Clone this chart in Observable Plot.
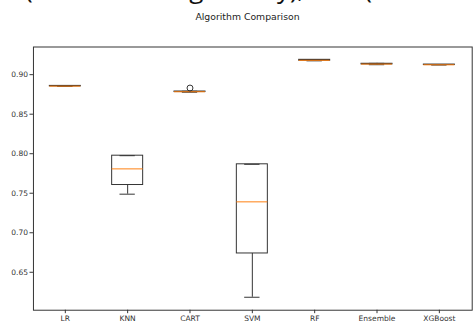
<!DOCTYPE html>
<html>
<head>
<meta charset="utf-8">
<script src="https://cdn.jsdelivr.net/npm/d3@7"></script>
<script src="https://cdn.jsdelivr.net/npm/@observablehq/plot@0.6"></script>
<style>
  html, body { margin: 0; padding: 0; background: #fff; overflow: hidden; }
  #wrap { position: relative; width: 473px; height: 325px; overflow: hidden; }
  #cut { position: absolute; left: 25px; top: -25px; font-family: "Open Sans", sans-serif; font-size: 26px; color: #111; white-space: nowrap; line-height: 1; }
  #title { position: absolute; left: 0; width: 495px; top: 11px; text-align: center; font-family: "DejaVu Sans", sans-serif; font-size: 9.3px; color: #222; }
  #chart { position: absolute; left: 0; top: 0; }
</style>
</head>
<body>
<div id="wrap">
  <div id="chart"></div>
  <div id="cut">(Before Tuning Mainly), and (</div>
  <div id="title">Algorithm Comparison</div>
</div>
<script>
const names = ["LR", "KNN", "CART", "SVM", "RF", "Ensemble", "XGBoost"];
const whiskerLow  = [0.8852, 0.7488, 0.8778, 0.6184, 0.9175, 0.9126, 0.9122];
const quart1      = [0.8852, 0.7604, 0.8780, 0.6738, 0.9176, 0.9130, 0.9122];
const medians     = [0.8855, 0.7808, 0.8784, 0.7391, 0.9182, 0.9134, 0.9125];
const quart3      = [0.8858, 0.7975, 0.8787, 0.7866, 0.9188, 0.9138, 0.9128];
const whiskerHigh = [0.8858, 0.7975, 0.8790, 0.7866, 0.9189, 0.9143, 0.9128];
const outlierNames = ["CART"];
const outlierValues = [0.8831];
const yTicks = [0.65, 0.70, 0.75, 0.80, 0.85, 0.90];

const rows = names.map((n, i) => ({
  name: n, lo: whiskerLow[i], q1: quart1[i], med: medians[i], q3: quart3[i], hi: whiskerHigh[i]
}));
const outliers = outlierNames.map((n, i) => ({name: n, v: outlierValues[i]}));

const W = 478, ML = 33.3, MR = 1.3;
const bw = (W - ML - MR) / names.length;
const boxInset = bw / 4;
const capInset = bw * 3 / 8;
const ink = "#333";

const chart = Plot.plot({
  width: W,
  height: 325,
  marginLeft: ML,
  marginRight: MR,
  marginTop: 47,
  marginBottom: 12,
  style: {fontFamily: "DejaVu Sans, sans-serif", fontSize: "7.6px", color: "#333", background: "#fff", overflow: "visible"},
  x: {type: "band", domain: names, paddingInner: 0, paddingOuter: 0, label: null},
  y: {domain: [0.602, 0.935], label: null},
  marks: [
    Plot.axisY({ticks: yTicks, tickFormat: d3.format(".2f"), tickSize: 3.5, tickPadding: 2, stroke: ink, label: null}),
    Plot.axisX({tickSize: 3.5, tickPadding: 1.5, stroke: ink, label: null}),
    Plot.ruleX(rows, {x: "name", y1: "lo", y2: "q1", stroke: ink, strokeWidth: 1}),
    Plot.ruleX(rows, {x: "name", y1: "q3", y2: "hi", stroke: ink, strokeWidth: 1}),
    Plot.tickY(rows, {x: "name", y: "lo", stroke: ink, strokeWidth: 1, insetLeft: capInset, insetRight: capInset}),
    Plot.tickY(rows, {x: "name", y: "hi", stroke: ink, strokeWidth: 1, insetLeft: capInset, insetRight: capInset}),
    Plot.rect(rows, {x: "name", y1: "q1", y2: "q3", fill: "none", stroke: ink, strokeWidth: 1, insetLeft: boxInset, insetRight: boxInset}),
    Plot.tickY(rows, {x: "name", y: "med", stroke: "#ff7f0e", strokeWidth: 1, insetLeft: boxInset, insetRight: boxInset}),
    Plot.dot(outliers, {x: "name", y: "v", r: 3, stroke: ink, fill: "none", strokeWidth: 1}),
    Plot.frame({stroke: ink, strokeWidth: 1})
  ]
});
document.getElementById("chart").appendChild(chart);
</script>
</body>
</html>
